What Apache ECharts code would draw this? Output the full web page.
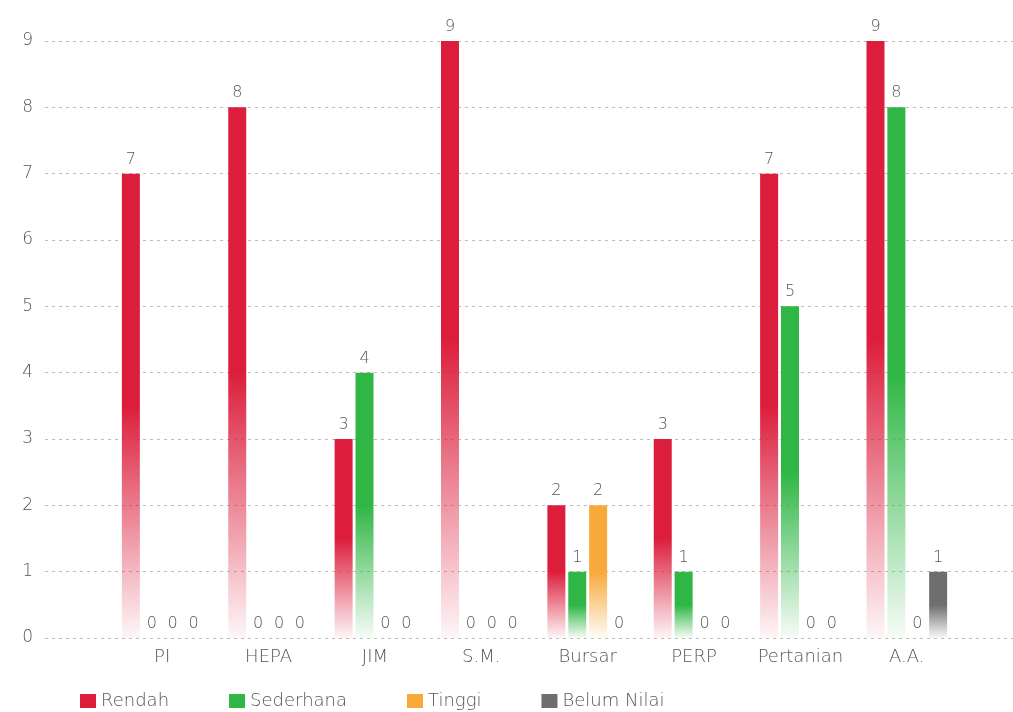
<!DOCTYPE html>
<html>
<head>
<meta charset="utf-8">
<script src="https://cdn.jsdelivr.net/npm/echarts@6/dist/echarts.min.js"></script>
<style>
  html, body { margin: 0; padding: 0; background: #fff; }
  #chart { width: 1013px; height: 712px; }
</style>
</head>
<body>
<div id="chart"></div>
<script>
const categories = ['PI', 'HEPA', 'JIM', 'S.M.', 'Bursar', 'PERP', 'Pertanian', 'A.A.'];
const seriesNames = ['Rendah', 'Sederhana', 'Tinggi', 'Belum Nilai'];
const rendah = [7, 8, 3, 9, 2, 3, 7, 9];
const sederhana = [0, 0, 4, 0, 1, 1, 5, 8];
const tinggi = [0, 0, 0, 0, 2, 0, 0, 0];
const belumNilai = [0, 0, 0, 0, 0, 0, 0, 1];
const colors = ['#dc1e3c', '#2fb644', '#f7a93b', '#6e6e6e'];

const FONT = "'DejaVu Sans', sans-serif";

// colour -> rgba with alpha
const fade = (hex, a) => {
  const n = parseInt(hex.slice(1), 16);
  return `rgba(${(n >> 16) & 255},${(n >> 8) & 255},${n & 255},${a})`;
};

const barGradient = (c) => new echarts.graphic.LinearGradient(0, 0, 0, 1, [
  {offset: 0, color: c},
  {offset: 0.5, color: c},
  {offset: 1, color: fade(c, 0.04)}
]);

const makeSeries = (name, data, i) => ({
  name: name,
  type: 'bar',
  xAxisIndex: 1,
  yAxisIndex: 1,
  data: data,
  barWidth: 18,
  barGap: '16%',
  itemStyle: {color: barGradient(colors[i])},
  label: {
    show: true,
    position: 'top',
    distance: 6,
    color: '#555',
    fontFamily: FONT,
    fontWeight: 200,
    fontSize: 16
  }
});

const chart = echarts.init(document.getElementById('chart'));
const option = {
  animation: false,
  color: colors,
  grid: [
    {left: 45, right: 0, top: 41, bottom: 74},
    {left: 109, right: 53, top: 41, bottom: 74}
  ],
  legend: {
    left: 75,
    top: 687,
    icon: 'rect',
    itemWidth: 16,
    itemHeight: 14,
    itemGap: 60,
    data: seriesNames.map((n, i) => ({name: n, itemStyle: {color: colors[i]}})),
    textStyle: {fontFamily: FONT, fontWeight: 200, fontSize: 18, color: '#555'}
  },
  xAxis: [
    {gridIndex: 0, type: 'category', data: categories, show: false},
    {
      gridIndex: 1,
      type: 'category',
      data: categories,
      axisLine: {show: false},
      axisTick: {show: false},
      axisLabel: {interval: 0, margin: 10, fontFamily: FONT, fontWeight: 200, fontSize: 18, color: '#555'}
    }
  ],
  yAxis: [
    {
      gridIndex: 0,
      type: 'value',
      min: 0,
      max: 9,
      interval: 1,
      axisLine: {show: false},
      axisTick: {show: false},
      axisLabel: {margin: 12, fontFamily: FONT, fontWeight: 200, fontSize: 17, color: '#555'},
      splitLine: {lineStyle: {type: [3, 4], color: '#bdbdbd', width: 1}}
    },
    {gridIndex: 1, type: 'value', min: 0, max: 9, interval: 1, show: false, splitLine: {show: false}}
  ],
  series: [
    makeSeries(seriesNames[0], rendah, 0),
    makeSeries(seriesNames[1], sederhana, 1),
    makeSeries(seriesNames[2], tinggi, 2),
    makeSeries(seriesNames[3], belumNilai, 3)
  ]
};
chart.setOption(option);
</script>
</body>
</html>
